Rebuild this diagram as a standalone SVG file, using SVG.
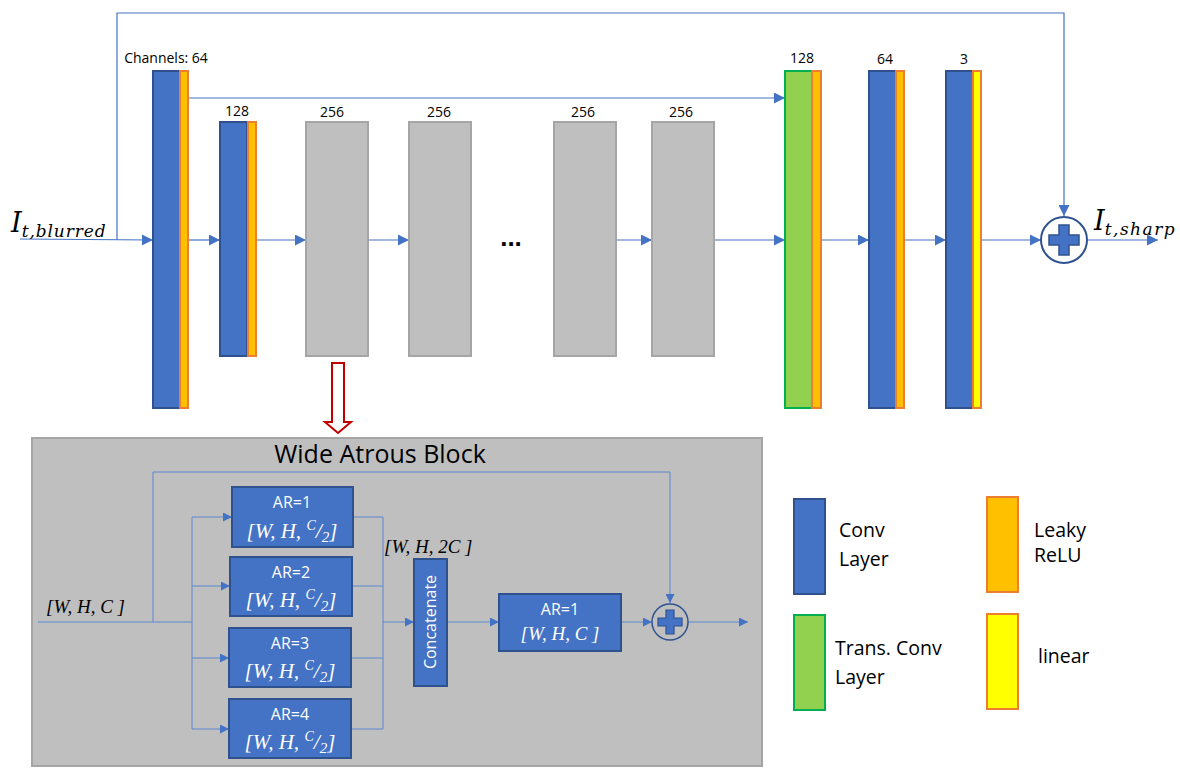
<svg xmlns="http://www.w3.org/2000/svg" width="1180" height="770" viewBox="0 0 1180 770">
<defs>
<marker id="ah" viewBox="0 0 10 10" refX="10" refY="5" markerUnits="userSpaceOnUse" markerWidth="12" markerHeight="11" orient="auto">
<path d="M0,0 L10,5 L0,10 z" fill="#4472C4"/>
</marker>
<marker id="ahs" viewBox="0 0 10 10" refX="10" refY="5" markerUnits="userSpaceOnUse" markerWidth="9" markerHeight="9" orient="auto">
<path d="M0,0 L10,5 L0,10 z" fill="#4472C4"/>
</marker>
<style>
.conv{fill:#4472C4;stroke:#2F528F;stroke-width:2}
.lrelu{fill:#FFC000;stroke:#ED7D31;stroke-width:2}
.lin{fill:#FFFF00;stroke:#ED7D31;stroke-width:2}
.tconv{fill:#92D050;stroke:#00B050;stroke-width:2}
.gray{fill:#BFBFBF;stroke:#A5A5A5;stroke-width:2}
.ln{fill:none;stroke:#4472C4;stroke-width:1.2}
.lni{fill:none;stroke:#5B86D0;stroke-width:1}
.lbl{font-family:"Open Sans","Noto Sans",sans-serif;font-size:14px;fill:#000}
.leg{font-family:"Open Sans","Noto Sans",sans-serif;font-size:19.5px;fill:#000}
.wt{font-family:"Open Sans","Noto Sans",sans-serif;font-size:16px;fill:#fff}
.m{font-family:"Liberation Serif","DejaVu Serif",serif;font-style:italic}
.mt{font-family:"DejaVu Serif","Liberation Serif",serif;font-style:italic}
</style>
</defs>
<rect width="1180" height="770" fill="#fff"/>

<g id="connectors">
<path class="ln" d="M20,239 L153,240" marker-end="url(#ah)"/>
<path class="ln" d="M117,240 L117,13 L1064,13 L1064,216" marker-end="url(#ah)"/>
<path class="ln" d="M189,98 L785,98" marker-end="url(#ah)"/>
<path class="ln" d="M189,240 L220,240" marker-end="url(#ah)"/>
<path class="ln" d="M257,240 L306,240" marker-end="url(#ah)"/>
<path class="ln" d="M368,240 L409,240" marker-end="url(#ah)"/>
<path class="ln" d="M616,240 L652,240" marker-end="url(#ah)"/>
<path class="ln" d="M714,240 L785,240" marker-end="url(#ah)"/>
<path class="ln" d="M822,240 L869,240" marker-end="url(#ah)"/>
<path class="ln" d="M904,240 L946,240" marker-end="url(#ah)"/>
<path class="ln" d="M982,240 L1041,240" marker-end="url(#ah)"/>
<path class="ln" d="M1087,240 L1158,240" marker-end="url(#ah)"/>
</g>

<g id="input-label">
<text class="mt" x="11" y="232" font-size="27">I<tspan font-size="17" dy="5" textLength="84" lengthAdjust="spacing">t,blurred</tspan></text>
</g>
<g id="output-label">
<text class="mt" x="1094" y="230" font-size="27">I<tspan font-size="17" dy="5" textLength="70" lengthAdjust="spacing">t,sharp</tspan></text>
</g>

<g id="conv1">
<rect class="conv" x="153" y="71" width="27" height="337"/>
<rect class="lrelu" x="180" y="71" width="8" height="337"/>
<text class="lbl" x="166" y="63" text-anchor="middle">Channels: 64</text>
</g>
<g id="conv2">
<rect class="conv" x="220" y="122" width="27" height="234"/>
<rect class="lrelu" x="248" y="122" width="8" height="234"/>
<text class="lbl" x="237" y="116" text-anchor="middle">128</text>
</g>
<g id="wab1">
<rect class="gray" x="306" y="122" width="62" height="234"/>
<text class="lbl" x="332" y="117" text-anchor="middle">256</text>
</g>
<g id="wab2">
<rect class="gray" x="409" y="122" width="62" height="234"/>
<text class="lbl" x="439" y="117" text-anchor="middle">256</text>
</g>
<g id="ellipsis">
<text x="511" y="246" text-anchor="middle" font-family="Liberation Sans, sans-serif" font-size="26" font-weight="bold" fill="#000">...</text>
</g>
<g id="wab3">
<rect class="gray" x="554" y="122" width="62" height="234"/>
<text class="lbl" x="583" y="117" text-anchor="middle">256</text>
</g>
<g id="wab4">
<rect class="gray" x="652" y="122" width="62" height="234"/>
<text class="lbl" x="681" y="117" text-anchor="middle">256</text>
</g>
<g id="tconv">
<rect class="tconv" x="785" y="71" width="27" height="337"/>
<rect class="lrelu" x="812" y="71" width="9" height="337"/>
<text class="lbl" x="802" y="63" text-anchor="middle">128</text>
</g>
<g id="conv3">
<rect class="conv" x="869" y="71" width="27" height="337"/>
<rect class="lrelu" x="896" y="71" width="8" height="337"/>
<text class="lbl" x="885" y="64" text-anchor="middle">64</text>
</g>
<g id="conv4">
<rect class="conv" x="946" y="71" width="27" height="337"/>
<rect class="lin" x="973" y="71" width="8" height="337"/>
<text class="lbl" x="964" y="64" text-anchor="middle">3</text>
</g>
<g id="sum">
<circle cx="1064" cy="240" r="23" fill="#fff" stroke="#2F528F" stroke-width="2"/>
<path d="M1059,225 h10 v10 h10 v10 h-10 v10 h-10 v-10 h-10 v-10 h10 z" fill="#4472C4" stroke="#2F528F" stroke-width="1.5"/>
</g>

<g id="expand-arrow">
<path d="M332,363 h12 v59 h7 l-13,11 l-13,-11 h7 z" fill="#fff" stroke="#C00000" stroke-width="2"/>
</g>

<g id="wide-atrous-block">
<rect class="gray" x="32" y="438" width="730" height="328"/>
<text x="380" y="463" text-anchor="middle" font-family="Open Sans, Noto Sans, sans-serif" font-size="25" fill="#000">Wide Atrous Block</text>
<g id="wab-connectors">
<path class="lni" d="M38,622 L192,622"/>
<path class="lni" d="M153,622 L153,472 L670,472 L670,603" marker-end="url(#ahs)"/>
<path class="lni" d="M192,517 L192,729"/>
<path class="lni" d="M192,517 L232,517" marker-end="url(#ahs)"/>
<path class="lni" d="M192,586 L230,586" marker-end="url(#ahs)"/>
<path class="lni" d="M192,658 L229,658" marker-end="url(#ahs)"/>
<path class="lni" d="M192,729 L229,729" marker-end="url(#ahs)"/>
<path class="lni" d="M353,517 L383,517 L383,729 L351,729"/>
<path class="lni" d="M352,586 L383,586"/>
<path class="lni" d="M351,658 L383,658"/>
<path class="lni" d="M383,622 L414,622" marker-end="url(#ahs)"/>
<path class="lni" d="M447,622 L499,622" marker-end="url(#ahs)"/>
<path class="lni" d="M621,622 L652,622" marker-end="url(#ahs)"/>
<path class="lni" d="M688,622 L748,622" marker-end="url(#ahs)"/>
</g>
<text class="m" x="46" y="613" font-size="19" fill="#000">[W, H, C ]</text>
<text class="m" x="384" y="553" font-size="19" fill="#000">[W, H, 2C ]</text>
<g id="ar1">
<rect class="conv" x="232" y="487" width="121" height="60"/>
<text class="wt" x="292" y="508" text-anchor="middle">AR=1</text>
<text class="m" x="292" y="538" text-anchor="middle" font-size="21" fill="#fff">[W, H, <tspan font-size="14" dy="-8">C</tspan><tspan font-size="22" dy="8">/</tspan><tspan font-size="15" dy="4">2</tspan><tspan dy="-4">]</tspan></text>
</g>
<g id="ar2">
<rect class="conv" x="230" y="557" width="122" height="59"/>
<text class="wt" x="291" y="578" text-anchor="middle">AR=2</text>
<text class="m" x="291" y="607" text-anchor="middle" font-size="21" fill="#fff">[W, H, <tspan font-size="14" dy="-8">C</tspan><tspan font-size="22" dy="8">/</tspan><tspan font-size="15" dy="4">2</tspan><tspan dy="-4">]</tspan></text>
</g>
<g id="ar3">
<rect class="conv" x="229" y="628" width="122" height="59"/>
<text class="wt" x="290" y="649" text-anchor="middle">AR=3</text>
<text class="m" x="290" y="678" text-anchor="middle" font-size="21" fill="#fff">[W, H, <tspan font-size="14" dy="-8">C</tspan><tspan font-size="22" dy="8">/</tspan><tspan font-size="15" dy="4">2</tspan><tspan dy="-4">]</tspan></text>
</g>
<g id="ar4">
<rect class="conv" x="229" y="699" width="122" height="59"/>
<text class="wt" x="290" y="720" text-anchor="middle">AR=4</text>
<text class="m" x="290" y="749" text-anchor="middle" font-size="21" fill="#fff">[W, H, <tspan font-size="14" dy="-8">C</tspan><tspan font-size="22" dy="8">/</tspan><tspan font-size="15" dy="4">2</tspan><tspan dy="-4">]</tspan></text>
</g>
<g id="concat">
<rect class="conv" x="414" y="559" width="33" height="127"/>
<text class="wt" transform="translate(436,622) rotate(-90)" x="0" y="0" text-anchor="middle" font-size="15">Concatenate</text>
</g>
<g id="ar-out">
<rect class="conv" x="499" y="594" width="122" height="57"/>
<text class="wt" x="560" y="615" text-anchor="middle">AR=1</text>
<text class="m" x="560" y="640" text-anchor="middle" font-size="19" fill="#fff">[W, H, C ]</text>
</g>
<g id="wab-sum">
<circle cx="670" cy="622" r="18" fill="none" stroke="#2F528F" stroke-width="1.5"/>
<path d="M666,610 h8 v8 h8 v8 h-8 v8 h-8 v-8 h-8 v-8 h8 z" fill="#4472C4" stroke="#2F528F" stroke-width="1.2"/>
</g>
</g>

<g id="legend">
<g id="leg-conv">
<rect class="conv" x="794" y="499" width="31" height="95"/>
<text class="leg" x="839" y="537">Conv</text>
<text class="leg" x="839" y="566">Layer</text>
</g>
<g id="leg-tconv">
<rect class="tconv" x="794" y="615" width="31" height="95"/>
<text class="leg" x="835" y="655">Trans. Conv</text>
<text class="leg" x="835" y="684">Layer</text>
</g>
<g id="leg-lrelu">
<rect class="lrelu" x="987" y="497" width="31" height="95"/>
<text class="leg" x="1034" y="537" font-size="17.5">Leaky</text>
<text class="leg" x="1034" y="562" font-size="17.5">ReLU</text>
</g>
<g id="leg-linear">
<rect class="lin" x="987" y="614" width="31" height="95"/>
<text class="leg" x="1038" y="663" font-size="17.5">linear</text>
</g>
</g>
</svg>
